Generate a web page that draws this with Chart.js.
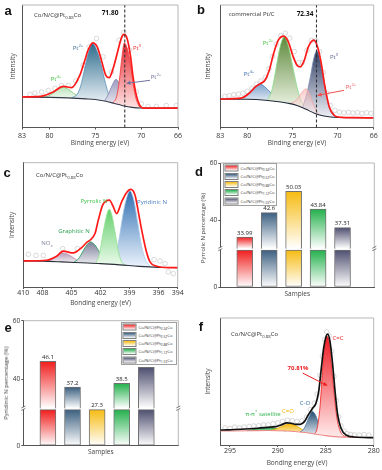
<!DOCTYPE html>
<html lang="en">
  <head>
    <meta charset="UTF-8" />
    <title>Pt 4f, N 1s and C 1s XPS of Co/N/C@PtCo</title>
    <script src="https://cdn.jsdelivr.net/npm/chart.js"></script>
    <style>
      body { margin: 0; background: #fff; }
      #fig { position: relative; width: 382px; height: 470px; overflow: hidden; font-family: "Open Sans", sans-serif; color: #333; }
      #fig canvas { position: absolute; }
      .lbl { position: absolute; white-space: nowrap; transform: translate(-50%, -50%); font-size: 6px; line-height: 1; }
      .lbl.l { transform: translate(0, -50%); }
      .lbl.rot { transform: translate(-50%, -50%) rotate(-90deg); color: #444; }
      .lbl sub, .lbl sup { font-size: 4.3px; line-height: 0; }
      .letter { position: absolute; transform: translate(-50%, -50%); font: bold 13px "Liberation Sans", sans-serif; color: #111; }
      /* legend drawn at 2x and scaled down, so the tiny text is not clamped */
      .legend { position: absolute; border: 2px solid #a0a0a0; background: #fff; box-sizing: border-box; transform: scale(0.5); transform-origin: 0 0; }
      .legend .row { display: flex; align-items: center; height: 16.4px; font-size: 8.6px; white-space: nowrap; color: #333; }
      .legend sub { font-size: 6.4px; line-height: 0; }
      .legend .sw { width: 24px; height: 10px; border: 2px solid #808080; margin: 0 4px 0 1px; flex: none; }
    </style>
  </head>

  <body>
    <div id="fig">
      <canvas id="ca" width="191" height="152" style="left:0;top:0;width:191px;height:152px"></canvas>
      <canvas id="cb" width="191" height="152" style="left:191px;top:0;width:191px;height:152px"></canvas>
      <canvas id="cc" width="191" height="160" style="left:0;top:150px;width:191px;height:160px"></canvas>
      <canvas id="cd" width="191" height="160" style="left:191px;top:150px;width:191px;height:160px"></canvas>
      <canvas id="ce" width="191" height="160" style="left:0;top:305px;width:191px;height:160px"></canvas>
      <canvas id="cf" width="191" height="165" style="left:191px;top:305px;width:191px;height:165px"></canvas>
    </div>

    <script>
      // ---- a: Pt 4f, Co/N/C@Pt0.88Co  [binding energy eV, intensity a.u.] ----
      const aTicks = [83, 80, 75, 70, 66];
      const aPeak = 71.8;
      const aBaseline = [[83,24.9],[80,24.6],[78,24.2],[76,23.4],[75,22.8],[74,21.6],[73,19.8],[72,17.8],[71,16.4],[70,15.9],[68,15.8],[66,15.8]];
      const aEnvelope = [[83,24.9],[81.5,25.2],[80.7,25.8],[79.6,29],[78.5,33.6],[77.6,32.5],[76.7,42.6],[76.15,54.9],[75.8,63.1],[75.3,69.1],[74.8,65.8],[74.35,54.9],[73.87,42.6],[73.5,40.7],[73.07,48.1],[72.64,60],[72.17,73],[71.88,76],[71.55,72.7],[71.19,59],[70.9,41.3],[70.54,26.2],[70.17,18],[69.74,15.8],[68,15.8],[66,15.8]];
      const aPt4 = [[80.8,24.5],[80.2,25.5],[79.6,28],[79.1,31],[78.5,32.8],[77.9,31],[77.4,28],[76.8,25.2],[76.3,23.5]];
      const aPt2 = [[77.6,24.2],[77,27],[76.6,34],[76.2,47],[75.8,60],[75.3,68.5],[74.8,62],[74.4,52],[74,39],[73.6,28],[73.2,21]];
      const aPt2b = [[74,21.6],[73.6,27],[73.2,34],[72.75,39.3],[72.3,34],[71.9,25],[71.5,18.8],[71.1,16.5]];
      const aPt0 = [[73.1,20],[72.7,25],[72.4,38],[72.1,58],[71.85,69],[71.55,65],[71.25,55],[70.95,39],[70.65,26],[70.3,18],[69.9,15.9]];
      const aRaw = [[82.13,27],[81.59,28.1],[80.86,29],[80.14,30.3],[79.41,32],[78.69,34.2],[77.96,34.4],[77.13,38],[76.33,50.8],[75.68,65.8],[74.88,72.7],[74.16,57.7],[73.25,45.4],[72.42,71.3],[71.91,77.6],[71.26,63.1],[70.54,29],[70,19.4],[69.27,17.2],[68.36,17.2],[67.28,18],[66.19,17.8]];

      // ---- b: Pt 4f, commercial Pt/C ----
      const bTicks = [83, 80, 75, 70, 66];
      const bPeak = 72.34;
      const bBaseline = [[83,23.2],[80,23],[78,22.2],[76.5,21],[75.5,19.8],[74.5,18],[73.5,14.8],[72.5,11.5],[71.5,9.4],[70.5,8.4],[66,7.9]];
      const bEnvelope = [[83,23.2],[80.7,24],[79.78,28.1],[79.05,33.6],[78.57,35.8],[78.05,38.5],[77.57,46.7],[77.09,60.4],[76.57,71.3],[75.98,74.6],[75.46,69.9],[74.98,59],[74.5,50.8],[74.13,49.5],[73.69,54.9],[73.24,65.8],[72.65,71.3],[72.28,67.2],[71.84,53.6],[71.4,33.1],[70.92,16.7],[70.36,9.8],[69.81,8.5],[68,8],[66,7.9]];
      const bPt4 = [[81.1,23.1],[80.4,25],[79.8,28.5],[79.2,33],[78.65,35.5],[78.1,33.5],[77.5,29],[76.9,24.5],[76.3,21.6],[75.6,20]];
      const bPt2 = [[77.8,22.1],[77.3,30],[76.9,45],[76.4,65],[75.9,74],[75.4,65],[74.9,47],[74.4,30],[73.9,19.5],[73.6,16]];
      const bPt2b = [[75.3,19.6],[74.8,21],[74.3,25],[73.8,30],[73.55,31.5],[73.2,29],[72.8,21],[72.4,14],[72.1,11]];
      const bPt0 = [[73.9,16],[73.4,28],[73,42],[72.65,56],[72.3,62.5],[71.9,54],[71.5,38],[71.1,21],[70.7,12],[70.3,9.2],[69.9,8.5]];
      const bRaw = [[82.5,25.5],[82,26],[81.5,26.8],[81,27.3],[80.5,28],[80,29.5],[79.5,32],[79,35.5],[78.5,38],[78,41],[77.6,48],[77.2,58],[76.8,68],[76.3,75],[75.8,77],[75.3,73],[74.8,62],[74.3,53],[73.9,53],[73.4,63],[72.9,71],[72.4,71],[72,62],[71.6,45],[71.2,28],[70.8,18],[70.3,14],[69.8,12.5],[69.3,12],[68.8,12.4],[68.3,11.8],[67.8,12.2],[67.3,11.5],[66.8,12],[66.3,11.5]];

      // ---- c: N 1s ----
      const cTicks = [410, 408, 405, 402, 399, 396, 394];
      const cBaseline = [[410,21],[408,20.8],[406,20.2],[404,19.5],[402,18.8],[400,17.8],[398,16.6],[396,15.8],[394,15.6]];
      const cEnvelope = [[410,21],[407.58,21.5],[406.6,24.5],[405.85,28.8],[404.82,27.4],[403.95,31.7],[403.37,36.3],[403.09,37.6],[402.57,43],[402.23,53.8],[401.78,65.9],[401.43,69.1],[401.08,69.9],[400.67,64.5],[400.33,59.1],[399.81,68.5],[399.36,75.3],[398.87,78.5],[398.42,73.9],[398.08,60.5],[397.73,45.7],[397.28,29.6],[396.87,20.2],[396.18,16.7],[395,15.6],[394,15.6]];
      const cNOx = [[407.6,20.7],[407,22],[406.4,25.5],[405.9,27.4],[405.3,26],[404.7,23],[404.2,20.5],[403.8,19.6]];
      const cGraphitic = [[404.8,19.8],[404.3,22.5],[403.8,29],[403.4,34],[403.05,36.3],[402.6,34],[402.1,28],[401.6,22.5],[401,19.5],[400.2,17.9]];
      const cPyridinic = [[400.7,18],[400.35,27],[400,42],[399.7,57],[399.35,70],[398.95,77.4],[398.55,70],[398.15,52],[397.75,33],[397.35,22],[396.9,17]];
      const cPyrrolic = [[402.5,18.9],[402.1,27],[401.7,45],[401.35,58],[401.1,62.6],[400.8,57],[400.45,42],[400.1,27],[399.75,19.5],[399.4,17.6]];
      const cRaw = [[409.48,26.3],[408.69,25.5],[407.93,25.5],[405.92,30.9],[404.4,30.9],[396.45,22],[395.83,21],[395.31,18.8],[394.97,12.1],[394.45,10.8]];

      // ---- d / e: N species percentage per sample ----
      const samplePos = [1, 2, 3, 4, 5];
      const sampleSubs = ["0.34", "0.52", "0.88", "1.12", "1.53"];
      const sampleColors = ["#f01c1c", "#3b5f80", "#f6bb12", "#23b04b", "#4e4f70"];
      const pyrrolicN = [33.99, 42.6, 50.03, 43.84, 37.31];
      const pyridinicN = [46.1, 37.2, 27.3, 38.5, 44];
      const pctTicksUpper = [40, 60];
      const pctTicksLower = [0];
      const pctUpperMin = 30, pctMax = 60, pctLowerMax = 26, pctBlock = 25;

      // ---- f: C 1s ----
      const fTicks = [295, 290, 285, 280];
      const fBaseline = [[296,11],[293,11.2],[291,11.4],[289,11],[288,10.4],[287,9.6],[286,8.5],[285,7.4],[284,6.6],[282,6],[280,5.8]];
      const fEnvelope = [[296,11.8],[293.84,12.4],[292.1,13.2],[291.06,13.9],[290.19,14.5],[289.67,15.8],[289.04,17.4],[288.63,17.1],[288.1,16.3],[287.65,16.3],[287.23,18.4],[286.82,23.7],[286.37,28.9],[286.02,32.9],[285.74,42.1],[285.5,57.9],[285.22,76.3],[284.97,85.5],[284.8,87.4],[284.56,81.6],[284.28,63.2],[284.03,42.1],[283.76,23.7],[283.41,13.2],[282.89,7.9],[282.02,6.3],[280,5.8]];
      const fSatellite = [[293.2,11.3],[292.5,12.2],[291.8,13.2],[291.1,13.8],[290.4,13.2],[289.8,12.2],[289.2,11]];
      const fCdO = [[290.8,11.4],[290.2,12.6],[289.6,14.6],[289.1,16.2],[288.7,16.6],[288.2,15.5],[287.7,13.3],[287.2,11],[286.8,9.6]];
      const fCO = [[287.7,10.2],[287.3,12.5],[286.95,18],[286.65,23.5],[286.4,26.3],[286.1,24],[285.8,18],[285.45,11.5],[285.1,8.2],[284.8,7.4]];
      const fCC = [[286.2,8.6],[285.9,13],[285.6,30],[285.35,58],[285.1,79],[284.85,85.5],[284.6,78],[284.35,58],[284.1,38],[283.85,22],[283.55,12],[283.2,7.6],[282.9,6.5]];
      const fRaw = [[295.5,13.5],[295,13],[294.5,14],[294,13.5],[293.5,14.2],[293,14.6],[292.5,15],[292,15.2],[291.5,15.8],[291,16],[290.5,16.8],[290,17.5],[289.5,18.6],[289,19.6],[288.5,19.2],[288,18.6],[287.5,19],[287,22],[286.6,28],[286.2,33],[285.9,40],[285.6,55],[285.35,70],[285.1,83],[284.9,89],[284.65,86],[284.4,74],[284.15,54],[283.9,35],[283.65,22],[283.4,15],[283.1,11],[282.8,9],[282.4,8.3],[282,8],[281.5,7.8],[281,8.2],[280.5,7.8]];

      const F = '"Open Sans", "Liberation Sans", sans-serif';
      Chart.defaults.font.family = F;
      Chart.defaults.color = "#333";

      const fig = document.getElementById("fig");
      const pts = (arr) => arr.map(([x, y]) => ({ x, y }));

      function vGrad(chart, scaleId, yTop, yBot, c1, c2) {
        const s = chart.scales[scaleId];
        if (!chart.chartArea || !s) return c1;
        const g = chart.ctx.createLinearGradient(0, s.getPixelForValue(yTop), 0, s.getPixelForValue(yBot));
        g.addColorStop(0, c1);
        g.addColorStop(1, c2);
        return g;
      }

      // light frame on top and right of the plot area
      const framePlugin = {
        id: "frame",
        afterDraw(chart) {
          const { ctx, chartArea: a } = chart;
          ctx.save();
          ctx.strokeStyle = "#a5a5a5";
          ctx.lineWidth = 0.8;
          ctx.beginPath();
          ctx.moveTo(a.left, a.top);
          ctx.lineTo(a.right, a.top);
          ctx.lineTo(a.right, a.bottom);
          ctx.stroke();
          ctx.restore();
        },
      };

      function arrowsPlugin(items) {
        return {
          id: "arrows",
          afterDatasetsDraw(chart) {
            const { ctx, scales } = chart;
            items.forEach((a) => {
              const x0 = scales.x.getPixelForValue(a.from[0]), y0 = scales.y.getPixelForValue(a.from[1]);
              const x1 = scales.x.getPixelForValue(a.to[0]), y1 = scales.y.getPixelForValue(a.to[1]);
              const t = Math.atan2(y1 - y0, x1 - x0), c = Math.cos(t), s = Math.sin(t);
              ctx.save();
              ctx.strokeStyle = a.color;
              ctx.fillStyle = a.color;
              ctx.lineWidth = 1;
              ctx.beginPath();
              ctx.moveTo(x0, y0);
              ctx.lineTo(x1 - 3 * c, y1 - 3 * s);
              ctx.stroke();
              ctx.beginPath();
              ctx.moveTo(x1, y1);
              ctx.lineTo(x1 - 4.5 * c + 2 * s, y1 - 4.5 * s - 2 * c);
              ctx.lineTo(x1 - 4.5 * c - 2 * s, y1 - 4.5 * s + 2 * c);
              ctx.closePath();
              ctx.fill();
              ctx.restore();
            });
          },
        };
      }

      function xpsChart(id, p) {
        const datasets = [{ data: pts(p.base), borderColor: p.baseColor, borderWidth: 1.1, fill: false, order: 2 }];
        p.comps.forEach((c, i) => {
          const ys = c.data.map((d) => d[1]);
          datasets.push({
            data: pts(c.data),
            borderColor: c.line,
            borderWidth: 0.8,
            order: 10 - i,
            fill: { target: 0 },
            backgroundColor: (ctx) => vGrad(ctx.chart, "y", Math.max(...ys), Math.min(...ys), c.c1, c.c2),
          });
        });
        datasets.push({ data: pts(p.env), borderColor: p.envColor, borderWidth: 1.7, fill: false, order: 1 });
        datasets.push({
          data: pts(p.raw), showLine: false, fill: false, order: 20,
          pointRadius: 2.3, pointBorderWidth: 0.7, pointBorderColor: "#c9c9c9", pointBackgroundColor: "rgba(255,255,255,0)",
        });
        if (p.dash !== undefined) {
          datasets.push({
            data: [{ x: p.dash, y: 0 }, { x: p.dash, y: 100 }],
            borderColor: "#333", borderWidth: 1.1, borderDash: [3, 2], fill: false,
            cubicInterpolationMode: "default", tension: 0, order: 0,
          });
        }
        return new Chart(document.getElementById(id), {
          type: "line",
          data: { datasets },
          options: {
            responsive: false,
            animation: false,
            layout: { padding: p.pad },
            elements: { point: { radius: 0 }, line: { cubicInterpolationMode: "monotone" } },
            plugins: { legend: { display: false }, tooltip: { enabled: false } },
            scales: {
              x: {
                type: "linear", min: p.range[0], max: p.range[1], reverse: true,
                afterBuildTicks: (s) => { s.ticks = p.ticks.map((v) => ({ value: v })); },
                ticks: { autoSkip: false, maxRotation: 0, padding: p.xTickPad, font: { size: 7 }, color: "#333" },
                grid: { display: true, drawOnChartArea: false, tickLength: 2, color: "#555" },
                border: { color: "#555", width: 1 },
                title: { display: true, text: p.xTitle, font: { size: 6.5 }, color: "#444", padding: { top: 0, bottom: p.xTitlePad } },
                afterFit: (s) => { s.height = p.xh; },
              },
              y: {
                min: 0, max: 100,
                ticks: { display: false },
                grid: { display: false },
                border: { color: "#555", width: 1 },
                title: { display: true, text: "Intensity", font: { size: 6.5 }, color: "#444", padding: { top: p.yTitlePad, bottom: 0 } },
                afterFit: (s) => { s.width = p.ylw; },
              },
            },
          },
          plugins: [framePlugin, arrowsPlugin(p.arrows || [])],
        });
      }

      function valueLabels(vals) {
        return {
          id: "vals",
          afterDatasetsDraw(chart) {
            const { ctx } = chart;
            const up = chart.getDatasetMeta(1).data, lo = chart.getDatasetMeta(0).data;
            ctx.save();
            ctx.font = "6px " + F;
            ctx.fillStyle = "#222";
            ctx.textAlign = "center";
            ctx.textBaseline = "bottom";
            vals.forEach((v, i) => {
              const el = v > pctUpperMin ? up[i] : lo[i];
              ctx.fillText(String(v), el.x, el.y - 1);
            });
            ctx.restore();
          },
        };
      }

      const axisBreak = {
        id: "axisBreak",
        afterDraw(chart) {
          const { ctx, chartArea: a } = chart;
          const yb = chart.scales.yU.bottom;
          ctx.save();
          [a.left, a.right].forEach((x) => {
            ctx.fillStyle = "#fff";
            ctx.fillRect(x - 1.5, yb - 1.2, 3, 2.4);
            ctx.strokeStyle = "#555";
            ctx.lineWidth = 0.8;
            ctx.beginPath();
            ctx.moveTo(x - 2, yb - 0.2); ctx.lineTo(x + 2, yb - 2.2);
            ctx.moveTo(x - 2, yb + 2.2); ctx.lineTo(x + 2, yb + 0.2);
            ctx.stroke();
          });
          ctx.restore();
        },
      };

      function barChart(id, vals, p) {
        const fillFor = (scaleId, base) => (ctx) => {
          const i = ctx.dataIndex;
          if (ctx.type !== "data" || !ctx.raw || ctx.raw.y == null) return sampleColors[i];
          return vGrad(ctx.chart, scaleId, ctx.raw.y, base, sampleColors[i], "#ffffff");
        };
        const common = { barThickness: 16, grouped: false, borderColor: "#707070", borderWidth: 1 };
        return new Chart(document.getElementById(id), {
          type: "bar",
          data: {
            datasets: [
              { ...common, yAxisID: "yL", borderSkipped: false,
                data: vals.map((v, i) => ({ x: samplePos[i], y: Math.min(v, pctBlock) })),
                backgroundColor: fillFor("yL", 0) },
              { ...common, yAxisID: "yU",
                data: vals.map((v, i) => ({ x: samplePos[i], y: v > pctUpperMin ? v : null })),
                backgroundColor: fillFor("yU", pctUpperMin) },
            ],
          },
          options: {
            responsive: false,
            animation: false,
            layout: { padding: p.pad },
            plugins: { legend: { display: false }, tooltip: { enabled: false } },
            scales: {
              x: {
                type: "linear", min: 0, max: 6.3, offset: false,
                ticks: { display: false }, grid: { display: false },
                border: { color: "#555", width: 1 },
                title: { display: true, text: "Samples", font: { size: 6.5 }, color: "#444", padding: { top: 0, bottom: p.xTitlePad } },
                afterFit: (s) => { s.height = p.xh; },
              },
              yL: {
                type: "linear", position: "left", stack: "pct", stackWeight: p.wL,
                min: 0, max: pctLowerMax,
                afterBuildTicks: (s) => { s.ticks = pctTicksLower.map((v) => ({ value: v })); },
                ticks: { font: { size: 6.5 }, color: "#333", padding: 1 },
                grid: { display: true, drawOnChartArea: false, tickLength: 2, color: "#555" },
                border: { color: "#555", width: 1 },
                afterFit: (s) => { s.width = p.ylw; },
              },
              yU: {
                type: "linear", position: "left", stack: "pct", stackWeight: p.wU,
                min: pctUpperMin, max: pctMax,
                afterBuildTicks: (s) => { s.ticks = pctTicksUpper.map((v) => ({ value: v })); },
                ticks: { font: { size: 6.5 }, color: "#333", padding: 1 },
                grid: { display: true, drawOnChartArea: false, tickLength: 2, color: "#555" },
                border: { color: "#555", width: 1 },
                afterFit: (s) => { s.width = p.ylw; },
              },
            },
          },
          plugins: [framePlugin, axisBreak, valueLabels(vals)],
        });
      }

      // ---- charts ----
      xpsChart("ca", {
        range: [66, 83], ticks: aTicks, dash: aPeak,
        pad: { left: 0, top: 5, right: 13, bottom: 0 }, ylw: 22, xh: 24.5,
        yTitlePad: 9.1, xTickPad: 2.3, xTitlePad: 5, xTitle: "Binding energy (eV)",
        base: aBaseline, baseColor: "#333a48", env: aEnvelope, envColor: "#ff1a1a", raw: aRaw,
        comps: [
          { data: aPt4, c1: "rgba(130,205,130,0.55)", c2: "rgba(225,242,225,0.5)", line: "#7cc87c" },
          { data: aPt2, c1: "#2f6d8e", c2: "#e6eef4", line: "#5b8fb5" },
          { data: aPt2b, c1: "#9c9cc0", c2: "#eeeef6", line: "#8585ad" },
          { data: aPt0, c1: "#e52b33", c2: "#ffe4e4", line: "#ee3a3a" },
        ],
        arrows: [{ from: [69.06, 38.5], to: [71.67, 36], color: "#7070a0" }],
      });

      xpsChart("cb", {
        range: [66, 83], ticks: bTicks, dash: bPeak,
        pad: { left: 0, top: 5, right: 8.3, bottom: 0 }, ylw: 29.3, xh: 24.5,
        yTitlePad: 12.8, xTickPad: 2.3, xTitlePad: 5, xTitle: "Binding energy (eV)",
        base: bBaseline, baseColor: "#232b3a", env: bEnvelope, envColor: "#ff1a1a", raw: bRaw,
        comps: [
          { data: bPt4, c1: "#7ea2cc", c2: "#eef3f9", line: "#4f82bd" },
          { data: bPt2, c1: "#5e8a3c", c2: "#eef4e6", line: "#86dd86" },
          { data: bPt0, c1: "#2f3d63", c2: "#eef0f7", line: "#7c8ab0" },
          { data: bPt2b, c1: "rgba(248,170,170,0.6)", c2: "rgba(255,235,235,0.4)", line: "#f4a3a3" },
        ],
        arrows: [{ from: [69.29, 30.3], to: [72.28, 26.2], color: "#f05050" }],
      });

      xpsChart("cc", {
        range: [394, 410], ticks: cTicks,
        pad: { left: 0, top: 12.7, right: 13.3, bottom: 0 }, ylw: 23.3, xh: 23,
        yTitlePad: 7.8, xTickPad: 0, xTitlePad: 3.1, xTitle: "Bonding energy (eV)",
        base: cBaseline, baseColor: "#2a2f3a", env: cEnvelope, envColor: "#ff1a1a", raw: cRaw,
        comps: [
          { data: cNOx, c1: "#b49fb8", c2: "#f3eff4", line: "#c28aa8" },
          { data: cGraphitic, c1: "#7d7f98", c2: "#eeeef3", line: "#179a52" },
          { data: cPyridinic, c1: "#2f6fb2", c2: "#e9f1fb", line: "#a6c6ea" },
          { data: cPyrrolic, c1: "#63cf6c", c2: "#eafaea", line: "#8fe08f" },
        ],
      });

      barChart("cd", pyrrolicN, { pad: { left: 0, top: 13, right: 7.7, bottom: 0 }, ylw: 29.3, xh: 23, xTitlePad: 12.1, wU: 85.5, wL: 38.5 });
      barChart("ce", pyridinicN, { pad: { left: 0, top: 15.7, right: 12.7, bottom: 0 }, ylw: 23.3, xh: 19.3, xTitlePad: 9.1, wU: 87.5, wL: 37.5 });

      xpsChart("cf", {
        range: [280, 296], ticks: fTicks,
        pad: { left: 0, top: 13, right: 8.3, bottom: 0 }, ylw: 29.3, xh: 25,
        yTitlePad: 12.8, xTickPad: 0, xTitlePad: 3.1, xTitle: "Bonding energy (eV)",
        base: fBaseline, baseColor: "#f08a8a", env: fEnvelope, envColor: "#111111", raw: fRaw,
        comps: [
          { data: fSatellite, c1: "#22a84a", c2: "#9fdcb0", line: "#1b8f3c" },
          { data: fCdO, c1: "#f4b80c", c2: "#fde9b0", line: "#e6a800" },
          { data: fCO, c1: "#264e72", c2: "#e2eaf2", line: "#3f72a3" },
          { data: fCC, c1: "#ee1c24", c2: "#ffeaea", line: "#ee2020" },
        ],
        arrows: [{ from: [287.4, 56.6], to: [284.8, 46.6], color: "#ee2020" }],
      });

      // ---- text annotations ----
      function label(html, x, y, style, cls) {
        const el = document.createElement("div");
        el.className = "lbl" + (cls ? " " + cls : "");
        el.innerHTML = html;
        el.style.left = x + "px";
        el.style.top = y + "px";
        Object.assign(el.style, style || {});
        fig.appendChild(el);
      }
      const sampleName = "Co/N/C@Pt<sub>0.88</sub>Co";
      const bold = { fontWeight: "bold", fontSize: "6.5px", color: "#111" };

      [["a", 8, 10], ["b", 201, 9], ["c", 7, 172], ["d", 199, 171], ["e", 8, 327], ["f", 201, 326]].forEach(([t, x, y]) => {
        const el = document.createElement("div");
        el.className = "letter";
        el.textContent = t;
        el.style.left = x + "px";
        el.style.top = y + "px";
        fig.appendChild(el);
      });

      label(sampleName, 34, 15, null, "l");
      label("71.80", 110, 13.3, bold);
      label("Pt<sup>2+</sup>", 78, 48, { color: "#3c6f9e" });
      label("Pt<sup>0</sup>", 137, 48, { color: "#e62a2a" });
      label("Pt<sup>2+</sup>", 156, 77, { color: "#6f6f9c" });
      label("Pt<sup>4+</sup>", 56, 79, { color: "#3cb83c" });

      label("commercial Pt/C", 228.7, 13.7, null, "l");
      label("72.34", 305, 13.7, bold);
      label("Pt<sup>2+</sup>", 268, 43, { color: "#45c045" });
      label("Pt<sup>0</sup>", 334, 57, { color: "#5f6390" });
      label("Pt<sup>4+</sup>", 249, 74, { color: "#3f6fae" });
      label("Pt<sup>2+</sup>", 351, 87, { color: "#f05a5a" });

      label(sampleName, 36, 175, null, "l");
      label("Pyrrolic N", 94, 201, { color: "#3dbf46" });
      label("Pyridinic N", 152, 202, { color: "#4a7fbf" });
      label("Graphitic N", 74, 231, { color: "#27a04c" });
      label("NO<sub>x</sub>", 47, 243, { color: "#7f7fa0" });

      label("Pyrrolic N percentage (%)", 202.7, 228, null, "rot");
      label("Pyridinic N percentage (%)", 6, 383, null, "rot");

      label(sampleName, 231, 334, null, "l");
      label("C=C", 338, 338, { color: "#ee2222" });
      label("70.81%", 298, 368, { color: "#ee2222", fontWeight: "bold" });
      label("C-O", 305, 403, { color: "#3a6fa6" });
      label("C=O", 288, 411, { color: "#f0b000" });
      label("π-π<sup>*</sup> satellite", 263, 414, { color: "#2eb04a" });

      function legend(x, y, w, h) {
        const box = document.createElement("div");
        box.className = "legend";
        Object.assign(box.style, { left: x + "px", top: y + "px", width: w * 2 + "px", height: h * 2 + "px" });
        sampleSubs.forEach((s, i) => {
          const row = document.createElement("div");
          row.className = "row";
          row.innerHTML =
            '<span class="sw" style="background:linear-gradient(' + sampleColors[i] + ',#fff)"></span>' +
            "<span>Co/N/C@Pt<sub>" + s + "</sub>Co</span>";
          box.appendChild(row);
        });
        fig.appendChild(box);
      }
      legend(223, 163, 54, 43);
      legend(121, 321.5, 56, 43);
    </script>
  </body>
</html>
